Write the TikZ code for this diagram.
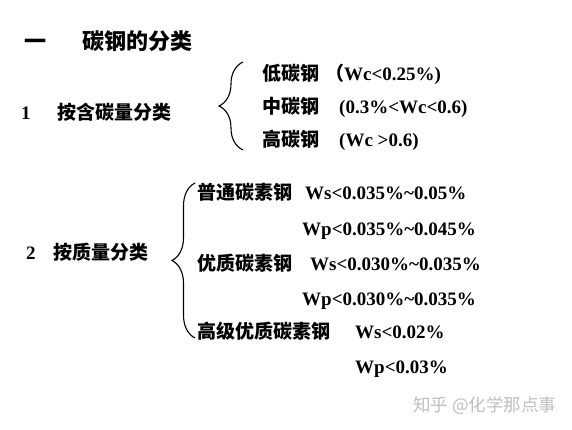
\documentclass[tikz,border=0pt]{standalone}
\usepackage{fontspec}
\setmainfont{Liberation Serif}
\newfontfamily\cjk{Noto Sans CJK SC}
\usetikzlibrary{decorations.pathreplacing,calc}
\tikzset{
  txt/.style={anchor=base west, inner sep=0pt, font=\cjk\bfseries\fontsize{19}{21}\selectfont},
  val/.style={anchor=base west, inner sep=0pt, font=\bfseries\fontsize{19}{21}\selectfont},
  br/.style={decorate, decoration={brace, amplitude=#1}, line width=1.1pt}
}
\begin{document}
\begin{tikzpicture}[x=1pt, y=-1pt]
  \fill[white] (0,0) rectangle (572,430);
  \useasboundingbox (0,0) rectangle (572,430);
  \node[txt, font=\cjk\bfseries\fontsize{22}{24}\selectfont] (t0) at (24,50) {一};
  \node[txt, font=\cjk\bfseries\fontsize{22}{24}\selectfont] (t) at (82,50) {碳钢的分类};
  \node[val] (n1) at (21,120) {1};
  \node[txt] (k1) at (57,120) {按含碳量分类};
  \node[txt] (lo) at (262,81) {低碳钢};
  \node[val] (lov) at (325,81) {{\cjk （}Wc<0.25\%)};
  \node[txt] (mi) at (262,114) {中碳钢};
  \node[val] (miv) at (339,114) {(0.3\%<Wc<0.6)};
  \node[txt] (hi) at (262,147) {高碳钢};
  \node[val] (hiv) at (339,147) {(Wc >0.6)};
  \draw[br=24pt] ($(hi.base west)+(-19,3)$) -- ($(lo.base west)+(-19,-19)$);
  \node[val] (n2) at (26,259) {2};
  \node[txt] (k2) at (53,259) {按质量分类};
  \node[txt] (pt) at (197,200) {普通碳素钢};
  \node[val] (pts) at (305,200) {Ws<0.035\%\textasciitilde0.05\%};
  \node[val] (ptp) at (302,235) {Wp<0.035\%\textasciitilde0.045\%};
  \node[txt] (yz) at (197,270) {优质碳素钢};
  \node[val] (yzs) at (310,270) {Ws<0.030\%\textasciitilde0.035\%};
  \node[val] (yzp) at (302,305) {Wp<0.030\%\textasciitilde0.035\%};
  \node[txt] (gj) at (197,338) {高级优质碳素钢};
  \node[val] (gjs) at (355,338) {Ws<0.02\%};
  \node[val] (gjp) at (355,373) {Wp<0.03\%};
  \draw[br=23pt] ($(gj.base west)+(-2,0)$) -- ($(pt.base west)+(-2,-17)$);
  \node[txt, font=\cjk\fontsize{17.5}{19}\selectfont, text=black!25] (wm) at (413,411) {知乎 @化学那点事};
\end{tikzpicture}
\end{document}
